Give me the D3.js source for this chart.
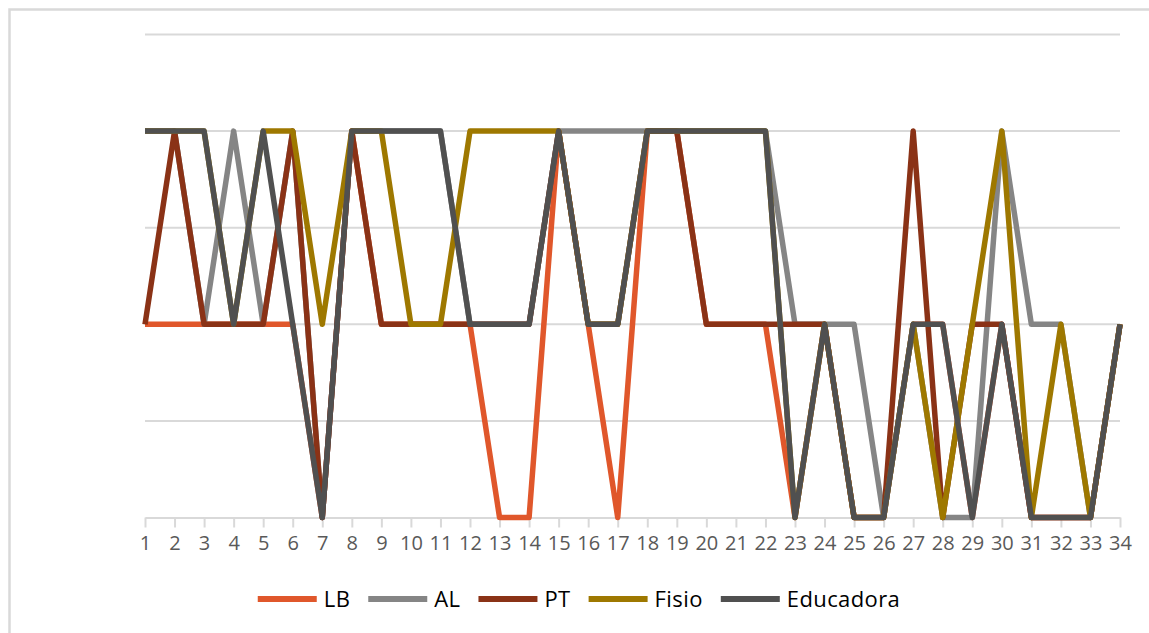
<!DOCTYPE html>
<html>
<head>
<meta charset="utf-8">
<script src="https://cdn.jsdelivr.net/npm/d3@7"></script>
<style>
  html, body { margin: 0; padding: 0; background: #ffffff; }
  svg { display: block; }
  text { font-family: "Open Sans", "DejaVu Sans", sans-serif; }
</style>
</head>
<body>
<svg id="chart" width="1149" height="633"></svg>
<script>
// Sessions 1..34
const sessions = d3.range(1, 35);

// Scores per professional at each session
const LB = [2,2,2,2,2,2,0,4,2,2,2,2,0,0,4,2,0,4,4,2,2,2,0,2,0,0,2,2,0,2,0,0,0,2];
const AL = [4,4,2,4,2,4,0,4,4,4,4,2,2,2,4,4,4,4,4,4,4,4,2,2,2,0,2,0,0,4,2,2,0,2];
const PT = [2,4,2,2,2,4,0,4,2,2,2,2,2,2,4,2,2,4,4,2,2,2,2,2,0,0,4,0,2,2,0,0,0,2];
const Fisio = [4,4,4,2,4,4,2,4,4,2,2,4,4,4,4,2,2,4,4,4,4,4,0,2,0,0,2,0,2,4,0,2,0,2];
const Educadora = [4,4,4,2,4,2,0,4,4,4,4,2,2,2,4,2,2,4,4,4,4,4,0,2,0,0,2,2,0,2,0,0,0,2];

const seriesNames = ["LB", "AL", "PT", "Fisio", "Educadora"];
const seriesValues = [LB, AL, PT, Fisio, Educadora];
const seriesColors = ["#e0572b", "#858585", "#8a3216", "#9e7800", "#505050"];

const yTicks = [0, 1, 2, 3, 4, 5];

const svg = d3.select("#chart");

// Chart frame
svg.append("rect")
  .attr("x", 9.5).attr("y", 9.5)
  .attr("width", 1200).attr("height", 700)
  .attr("fill", "none")
  .attr("stroke", "#d9d9d9")
  .attr("stroke-width", 2.5);

const x = d3.scalePoint().domain(sessions).range([145, 1120]);
const y = d3.scaleLinear().domain([0, 5]).range([517.5, 34.5]);

// Horizontal gridlines
svg.append("g")
  .selectAll("line")
  .data(yTicks.filter(d => d > 0))
  .join("line")
  .attr("x1", 145).attr("x2", 1120)
  .attr("y1", d => y(d)).attr("y2", d => y(d))
  .attr("stroke", "#d9d9d9")
  .attr("stroke-width", 2);

// Category axis
const xAxis = svg.append("g")
  .attr("transform", `translate(0,${y(0)})`)
  .call(d3.axisBottom(x).tickSize(10).tickPadding(8).tickSizeOuter(0));
xAxis.select(".domain").attr("stroke", "#d9d9d9").attr("stroke-width", 2);
xAxis.selectAll(".tick line").attr("stroke", "#d9d9d9").attr("stroke-width", 2);
xAxis.selectAll(".tick text")
  .attr("fill", "#595959")
  .attr("font-size", 20)
  .attr("font-family", "'Open Sans', sans-serif");

// Series lines
const line = d3.line()
  .x((d, i) => x(sessions[i]))
  .y(d => y(d));

svg.append("g")
  .selectAll("path")
  .data(seriesValues)
  .join("path")
  .attr("d", d => line(d))
  .attr("fill", "none")
  .attr("stroke", (d, i) => seriesColors[i])
  .attr("stroke-width", 5.5)
  .attr("stroke-linejoin", "round")
  .attr("stroke-linecap", "butt");

// Legend
const legend = svg.append("g");
const legendY = 599;
const swatchW = 59, textGap = 7, itemGap = 18;
const items = legend.selectAll("g")
  .data(seriesNames)
  .join("g");
items.append("line")
  .attr("x1", 0).attr("x2", swatchW)
  .attr("y1", legendY).attr("y2", legendY)
  .attr("stroke", (d, i) => seriesColors[i])
  .attr("stroke-width", 6);
items.append("text")
  .attr("x", swatchW + textGap)
  .attr("y", legendY)
  .attr("dy", "0.35em")
  .attr("font-size", 22)
  .attr("letter-spacing", 0.4)
  .attr("fill", "#000000")
  .text(d => d);

const widths = [];
items.each(function () {
  const tw = d3.select(this).select("text").node().getComputedTextLength();
  widths.push(swatchW + textGap + tw);
});
const total = d3.sum(widths) + itemGap * (widths.length - 1);
let start = 579 - total / 2;
items.attr("transform", (d, i) => {
  const tx = start;
  start += widths[i] + itemGap;
  return `translate(${tx},0)`;
});
</script>
</body>
</html>
